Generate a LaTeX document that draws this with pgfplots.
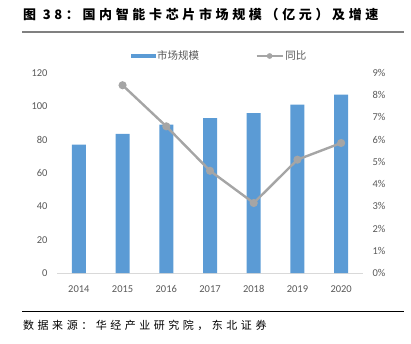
\documentclass[border=0pt]{standalone}
\usepackage{pgfplots}
\pgfplotsset{compat=1.18}
\usepackage{fontspec}
\setmainfont{Carlito}
\newfontfamily\cjk{Noto Sans CJK SC}
\newfontfamily\cjktitle[LetterSpace=28]{Noto Sans CJK SC}
\newfontfamily\cjksrc[LetterSpace=32]{Noto Sans CJK SC}
\definecolor{barblue}{HTML}{5B9BD5}
\definecolor{linegray}{HTML}{A5A5A5}
\definecolor{ticktext}{HTML}{595959}
\definecolor{axisgray}{HTML}{D9D9D9}
\pgfplotsset{
  barlegend/.style={legend image code/.code={\fill[barblue] (0pt,-2pt) rectangle (25pt,2pt);}},
  linelegend/.style={legend image code/.code={\draw[linegray,line width=2.2pt] (0pt,0pt) -- (26pt,0pt); \fill[linegray] (13pt,0pt) circle (2.6pt);}},
}
\begin{document}
\begin{tikzpicture}
\path[use as bounding box] (0pt,0pt) rectangle (411pt,343pt);
% title
\node[anchor=west,inner sep=0] at (23pt,328pt) {\cjktitle\bfseries\fontsize{13}{15}\selectfont 图\ 38：国内智能卡芯片市场规模（亿元）及增速};
\draw[gray,line width=1.3pt] (22pt,311pt) -- (404pt,311pt);
\draw[black,line width=0.6pt] (22pt,32pt) -- (404pt,32pt);
\node[anchor=west,inner sep=0] at (23pt,18pt) {\cjksrc\fontsize{11}{13}\selectfont 数据来源：华经产业研究院，东北证券};
\begin{axis}[
  at={(57pt,70pt)}, anchor=south west,
  scale only axis, width=306pt, height=200pt,
  xmin=-0.5, xmax=6.5, ymin=0, ymax=120,
  xtick=data, xticklabels={2014,2015,2016,2017,2018,2019,2020},
  ytick={0,20,...,120},
  axis x line*=bottom, axis y line*=left,
  x axis line style={draw=axisgray, line width=0.8pt, -},
  y axis line style={draw=none},
  major tick length=0,
  tick label style={font=\fontsize{10.5}{12}\selectfont, text=ticktext},
  /pgf/number format/assume math mode=true,
  yticklabel style={xshift=-6pt},
  xticklabel style={yshift=-9pt},
  legend style={at={(0.53,1.085)}, anchor=center, draw=none, fill=none,
     legend columns=2, font=\cjk\fontsize{10.5}{12}\selectfont, text=ticktext,
     /tikz/every even column/.append style={column sep=55pt},
     nodes={inner sep=1.5pt}},
  clip=false,
]
\addplot[ybar, bar width=14pt, fill=barblue, draw=none, barlegend]
  coordinates {(0,77) (1,83.5) (2,89) (3,93) (4,96) (5,101) (6,107)};
\addlegendentry{市场规模}
\addlegendimage{linelegend}
\addlegendentry{同比}
\end{axis}
\begin{axis}[
  at={(57pt,70pt)}, anchor=south west,
  scale only axis, width=306pt, height=200pt,
  xmin=-0.5, xmax=6.5, ymin=0, ymax=9,
  ytick={0,1,...,9},
  yticklabel={\pgfmathprintnumber{\tick}\%},
  axis y line*=right, axis x line=none,
  y axis line style={draw=none},
  major tick length=0,
  tick label style={font=\fontsize{10.5}{12}\selectfont, text=ticktext},
  /pgf/number format/assume math mode=true,
  yticklabel style={xshift=6pt},
  clip=false,
]
\addplot[line width=2.4pt, linegray, mark=*, mark size=2.8pt, mark options={fill=linegray}]
  coordinates {(1,8.45) (2,6.6) (3,4.6) (4,3.15) (5,5.1) (6,5.85)};
\end{axis}
\end{tikzpicture}
\end{document}
